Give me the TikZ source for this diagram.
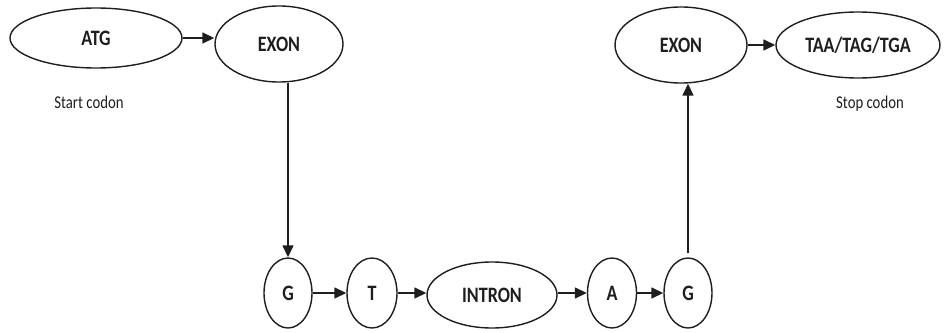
\documentclass[tikz,border=0pt]{standalone}
\usepackage{fontspec}
\setmainfont{Carlito}
\newfontfamily\lblfont[FakeStretch=0.82]{Carlito}
\usetikzlibrary{shapes.geometric,arrows.meta}
\definecolor{ink}{RGB}{30,30,30}
\tikzset{
  oval/.style={ellipse, draw=ink, line width=1.4pt, inner sep=0pt,
    font=\lblfont\bfseries\fontsize{22}{26}\selectfont, text=ink},
  captext/.style={font=\lblfont\fontsize{18}{21}\selectfont, text=ink},
  arr/.style={draw=ink, line width=1.5pt, -{Triangle[length=12pt,width=11pt]}}
}
\begin{document}
\begin{tikzpicture}[x=1pt,y=-1pt]
\useasboundingbox (0,0) rectangle (945,332);
\node[oval, minimum width=172pt, minimum height=60pt] (ATG) at (96,38) {ATG};
\node[oval, minimum width=128pt, minimum height=76pt] (EX1) at (279,44) {EXON};
\node[oval, minimum width=132pt, minimum height=76pt] (EX2) at (681,45) {EXON};
\node[oval, minimum width=164pt, minimum height=66pt] (STOP) at (858,45) {TAA/TAG/TGA};
\node[oval, minimum width=48pt, minimum height=70pt] (G1) at (288,293) {G};
\node[oval, minimum width=50pt, minimum height=70pt] (T) at (372,293) {T};
\node[oval, minimum width=130pt, minimum height=66pt] (INT) at (492,295) {INTRON};
\node[oval, minimum width=49pt, minimum height=70pt] (A) at (612,293) {A};
\node[oval, minimum width=48pt, minimum height=70pt] (G2) at (688,293) {G};
\node[captext] (startlbl) at (89,102) {Start codon};
\node[captext] (stoplbl) at (870,104) {Stop codon};
\draw[arr] (ATG.east) -- (ATG.east -| EX1.west);
\draw[arr] (EX2.east) -- (EX2.east -| STOP.west);
\draw[arr] (EX1.south -| G1.north) -- (G1.north);
\draw[arr] (G1.east) -- (T.west);
\draw[arr] (T.east) -- (T.east -| INT.west);
\draw[arr] (A.west -| INT.east) -- (A.west);
\draw[arr] (A.east) -- (G2.west);
\draw[arr, shorten <=4pt] (G2.north) -- (G2.north |- EX2.south);
\end{tikzpicture}
\end{document}
